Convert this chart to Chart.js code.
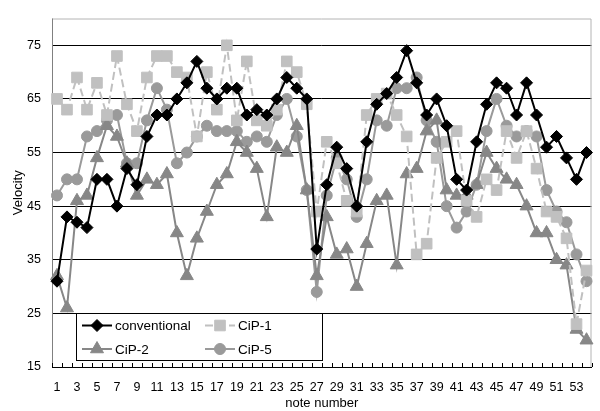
<!DOCTYPE html>
<html>
<head>
<meta charset="utf-8">
<script src="https://cdn.jsdelivr.net/npm/chart.js@4.4.1/dist/chart.umd.min.js"></script>
<style>
  html, body { margin: 0; padding: 0; background: #fff; }
</style>
</head>
<body>
<canvas id="chart" width="600" height="411"></canvas>
<script>
const notes = [1, 2, 3, 4, 5, 6, 7, 8, 9, 10, 11, 12, 13, 14, 15, 16, 17, 18,
  19, 20, 21, 22, 23, 24, 25, 26, 27, 28, 29, 30, 31, 32, 33, 34, 35, 36,
  37, 38, 39, 40, 41, 42, 43, 44, 45, 46, 47, 48, 49, 50, 51, 52, 53, 54];

const conventional = [31, 43, 42, 41, 50, 50, 45, 52, 49, 58, 62, 62, 65, 68, 72, 67, 65, 67,
  67, 62, 63, 62, 65, 69, 67, 65, 37, 49, 56, 52, 45, 57, 64, 66, 69, 74,
  68, 62, 65, 60, 50, 48, 57, 64, 68, 67, 62, 68, 62, 56, 58, 54, 50, 55];

const cip1 = [65, 63, 69, 63, 68, 62, 73, 64, 59, 69, 73, 73, 70, 69, 58, 70, 63, 75,
  61, 72, 61, 60, 63, 72, 70, 64, 44, 57, 53, 46, 44, 62, 65, 66, 62, 58,
  36, 38, 54, 57, 59, 46, 43, 50, 48, 59, 54, 59, 52, 44, 43, 39, 23, 33];

const cip2 = [32, 26, 46, 47, 54, 60, 58, 53, 47, 50, 49, 51, 40, 32, 39, 44, 49, 51,
  57, 55, 52, 43, 56, 55, 60, 48, 32, 43, 36, 37, 30, 38, 46, 47, 34, 51,
  52, 59, 61, 48, 47, 47, 49, 55, 52, 50, 49, 45, 40, 40, 35, 34, 22, 20];

const cip5 = [47, 50, 50, 58, 59, 61, 62, 53, 53, 61, 67, 63, 53, 55, 58, 60, 59, 59,
  59, 57, 58, 57, 62, 65, 58, 48, 29, 47, 54, 50, 43, 50, 61, 60, 67, 67,
  69, 61, 57, 45, 41, 44, 49, 59, 65, 60, 58, 59, 58, 48, 44, 42, 36, 31];

const yTicks = [15, 25, 35, 45, 55, 65, 75];

const FONT = "'Liberation Sans', Arial, sans-serif";

// plot frame and the small inside tick marks on the x axis
const frameTicks = {
  id: 'frameTicks',
  beforeDatasetsDraw(chart) {
    const { ctx, chartArea: a, scales: { x } } = chart;
    ctx.save();
    ctx.lineWidth = 1;
    ctx.strokeStyle = '#b4b4b4';
    ctx.beginPath();
    ctx.moveTo(a.left, a.top + 0.5);
    ctx.lineTo(a.right - 0.5, a.top + 0.5);
    ctx.lineTo(a.right - 0.5, a.bottom);
    ctx.stroke();
    ctx.strokeStyle = '#808080';
    ctx.beginPath();
    ctx.moveTo(a.left + 0.5, a.top);
    ctx.lineTo(a.left + 0.5, a.bottom);
    ctx.stroke();

    ctx.strokeStyle = '#000';
    const half = (x.getPixelForValue(1) - x.getPixelForValue(0)) / 2;
    ctx.beginPath();
    for (let i = 0; i <= notes.length; i++) {
      const px = Math.round(x.getPixelForValue(i) - half) + 0.5;
      ctx.moveTo(px, a.bottom);
      ctx.lineTo(px, a.bottom - 4);
    }
    ctx.stroke();
    ctx.restore();
  }
};

// legend box drawn inside the plot, 2 columns
const boxLegend = {
  id: 'boxLegend',
  afterDraw(chart) {
    const { ctx, chartArea: a } = chart;
    const x0 = a.left + 24, y0 = a.bottom - 54, w = 246, h = 47;
    ctx.save();
    ctx.fillStyle = '#fff';
    ctx.fillRect(x0, y0, w, h);
    ctx.strokeStyle = '#000';
    ctx.lineWidth = 1;
    ctx.strokeRect(x0 + 0.5, y0 + 0.5, w, h);

    chart.data.datasets.forEach((ds, k) => {
      const cx = x0 + (k % 2) * 123;
      const cy = y0 + 12.5 + Math.floor(k / 2) * 23.5;
      ctx.strokeStyle = ds.borderColor;
      ctx.lineWidth = ds.borderWidth;
      ctx.setLineDash(ds.borderDash || []);
      ctx.beginPath();
      ctx.moveTo(cx + 6, cy);
      ctx.lineTo(cx + 36, cy);
      ctx.stroke();
      ctx.setLineDash([]);
      ctx.fillStyle = ds.pointBackgroundColor;
      ctx.strokeStyle = ds.pointBorderColor;
      ctx.lineWidth = 1;
      Chart.helpers.drawPoint(ctx, {
        pointStyle: ds.pointStyle, radius: ds.pointRadius, rotation: 0, borderWidth: 1
      }, cx + 21, cy);
      ctx.fillStyle = '#000';
      ctx.font = '13.5px ' + FONT;
      ctx.textBaseline = 'middle';
      ctx.fillText(ds.label, cx + 39, cy + 1);
    });
    ctx.restore();
  }
};

function series(label, data, color, style, radius, dash) {
  return {
    label: label,
    data: data,
    borderColor: color,
    backgroundColor: color,
    borderWidth: 2,
    borderDash: dash,
    pointStyle: style,
    pointRadius: radius,
    pointBackgroundColor: color,
    pointBorderColor: color,
    pointBorderWidth: 1,
    tension: 0,
    fill: false
  };
}

new Chart(document.getElementById('chart'), {
  type: 'line',
  data: {
    labels: notes,
    datasets: [
      series('conventional', conventional, '#000000', 'rectRot', 6, []),
      series('CiP-1', cip1, '#c0c0c0', 'rect', 7.5, [8, 4]),
      series('CiP-2', cip2, '#878787', 'triangle', 7.5, []),
      series('CiP-5', cip5, '#9a9a9a', 'circle', 5.5, [])
    ]
  },
  options: {
    responsive: false,
    animation: false,
    layout: { padding: { top: 10, right: 1, left: 0, bottom: 0 } },
    plugins: {
      legend: { display: false },
      tooltip: { enabled: false }
    },
    scales: {
      x: {
        offset: true,
        afterFit: s => { s.height = 44; },
        grid: { display: false, drawTicks: false },
        border: { display: true, color: '#000', width: 1 },
        ticks: {
          autoSkip: false,
          maxRotation: 0,
          padding: 13,
          color: '#000',
          font: { family: FONT, size: 12.5 },
          callback: (v, i) => (i % 2 === 0 ? notes[i] : '')
        },
        title: {
          display: true,
          text: 'note number',
          color: '#000',
          font: { family: FONT, size: 13 },
          padding: { top: 0, bottom: 0 }
        }
      },
      y: {
        min: 15,
        max: 80,
        afterBuildTicks: s => { s.ticks = yTicks.map(v => ({ value: v })); },
        afterFit: s => { s.width = 52; },
        grid: { color: '#000', lineWidth: 1, drawTicks: false },
        border: { display: false },
        ticks: {
          padding: 11,
          color: '#000',
          font: { family: FONT, size: 12.5 }
        },
        title: {
          display: true,
          text: 'Velocity',
          color: '#000',
          font: { family: FONT, size: 13 },
          padding: { top: 11, bottom: 0 }
        }
      }
    }
  },
  plugins: [frameTicks, boxLegend]
});
</script>
</body>
</html>
